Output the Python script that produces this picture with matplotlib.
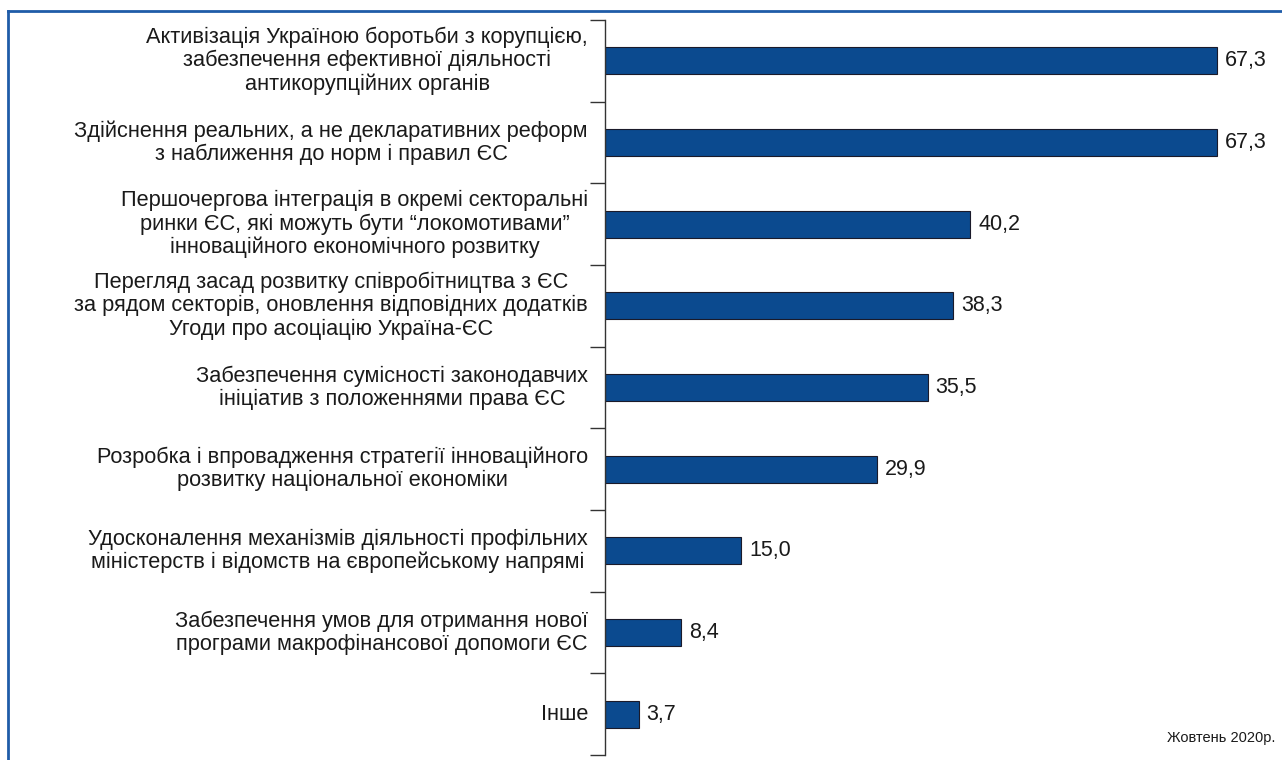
import matplotlib
matplotlib.use("Agg")
import matplotlib.pyplot as plt
from matplotlib.lines import Line2D

plt.rcParams['font.family'] = ['Liberation Sans', 'DejaVu Sans']

categories = [
    "Активізація Україною боротьби з корупцією,\nзабезпечення ефективної діяльності\nантикорупційних органів",
    "Здійснення реальних, а не декларативних реформ\nз наближення до норм і правил ЄС",
    "Першочергова інтеграція в окремі секторальні\nринки ЄС, які можуть бути “локомотивами”\nінноваційного економічного розвитку",
    "Перегляд засад розвитку співробітництва з ЄС\nза рядом секторів, оновлення відповідних додатків\nУгоди про асоціацію Україна-ЄС",
    "Забезпечення сумісності законодавчих\nініціатив з положеннями права ЄС",
    "Розробка і впровадження стратегії інноваційного\nрозвитку національної економіки",
    "Удосконалення механізмів діяльності профільних\nміністерств і відомств на європейському напрямі",
    "Забезпечення умов для отримання нової\nпрограми макрофінансової допомоги ЄС",
    "Інше",
]
values = [67.3, 67.3, 40.2, 38.3, 35.5, 29.9, 15.0, 8.4, 3.7]
footnote = "Жовтень 2020р."

W, H = 1282, 760
fig = plt.figure(figsize=(W / 100, H / 100), dpi=100)
ax = fig.add_axes([605 / W, 1 - 755 / H, (1270 - 605) / W, (755 - 20) / H])

bar_color = "#0b4a8f"
text_color = "#1a1a1a"
ypos = list(range(len(values)))
ax.barh(ypos, values, height=0.33, color=bar_color, edgecolor="#1a1a2a", linewidth=0.8)

ax.set_xlim(0, (1270 - 605) / 9.09)
ax.set_ylim(len(values) - 0.5, -0.5)

for s in ("top", "right", "bottom"):
    ax.spines[s].set_visible(False)
ax.spines["left"].set_color("#333333")
ax.spines["left"].set_linewidth(1.0)
ax.set_xticks([])
ax.set_yticks([i - 0.5 for i in range(len(values) + 1)])
ax.set_yticklabels([])
ax.tick_params(axis="y", length=11, width=1.0, color="#333333")

for y, (cat, v) in enumerate(zip(categories, values)):
    ax.annotate(cat, xy=(0, y), xycoords=("axes fraction", "data"),
                xytext=(-17, 0), textcoords="offset pixels",
                ha="right", va="center", multialignment="center",
                fontsize=15.7, color=text_color, linespacing=1.12)
    ax.annotate(f"{v:.1f}".replace(".", ","), xy=(v, y), xytext=(8, 0),
                textcoords="offset pixels", ha="left", va="center",
                fontsize=15.5, color=text_color)

fig.text(1275 / W, 1 - 738 / H, footnote, ha="right", va="center",
         fontsize=10.5, color=text_color)

# frame lines along the top and left edges of the figure
frame_color = "#1f5ca8"
fig.add_artist(Line2D([8 / W, 1.0], [1 - 10.5 / H, 1 - 10.5 / H], color=frame_color,
                      linewidth=2.0, transform=fig.transFigure))
fig.add_artist(Line2D([8 / W, 8 / W], [0.0, 1 - 10.5 / H], color=frame_color,
                      linewidth=2.0, transform=fig.transFigure))

fig.savefig("out.png", dpi=100)
